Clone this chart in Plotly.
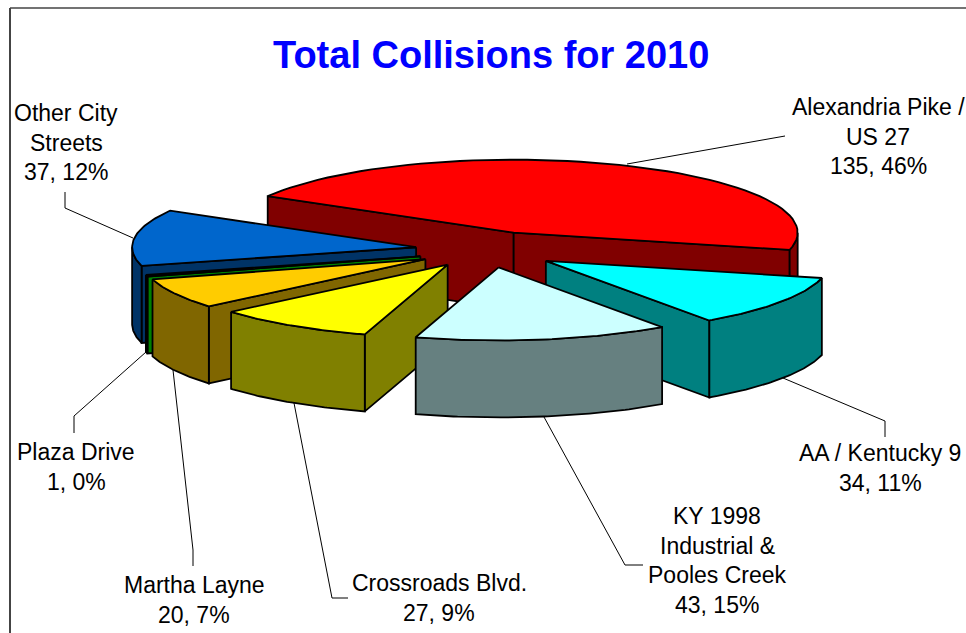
import math
import plotly.graph_objects as go

# ---- data ----
categories = ["Alexandria Pike / US 27", "AA / Kentucky 9", "KY 1998 Industrial & Pooles Creek",
              "Crossroads Blvd.", "Martha Layne", "Plaza Drive", "Other City Streets"]
values = [135, 34, 43, 27, 20, 1, 37]
percent_labels = ["46%", "11%", "15%", "9%", "7%", "0%", "12%"]
label_lines = [["Alexandria Pike /", "US 27"], ["AA / Kentucky 9"], ["KY 1998", "Industrial &", "Pooles Creek"],
               ["Crossroads Blvd."], ["Martha Layne"], ["Plaza Drive"], ["Other City", "Streets"]]

# ---- styling and layout ----
top_colors = ["#FF0000", "#00FFFF", "#CCFFFF", "#FFFF00", "#FFCC00", "#00A000", "#0066CC"]
side_colors = ["#800000", "#008080", "#668080", "#808000", "#806600", "#008000", "#003366"]
pull_x = [0.30, 0.272, 0.37, 0.22, 0.226, 0.225, 0.234]
pull_y = [0.30, 0.19, 0.20, 0.19, 0.18, 0.17, 0.60]
paint_order = [0, 6, 5, 4, 3, 1, 2]
START_ANGLE = 150.0
CX, CY, RX, RY, DEPTH = 482.0, 253.0, 284.0, 73.0, 77.0
OUTLINE = 1.8

label_pos = [(878, 107), (880, 453), (717, 516), (439, 583), (194, 585), (76, 452), (66, 113)]
LINE_GAP = 29.5
leaders = [
    [(627, 164), (785, 136)],
    [(783, 378), (885, 421), (885, 437)],
    [(544, 417), (625, 565), (643, 565)],
    [(294, 403), (332, 598), (348, 598)],
    [(173, 370), (193, 550), (193, 566)],
    [(146, 352), (74, 416), (74, 433)],
    [(133, 238), (65, 208), (65, 192)],
]

fig = go.Figure()


def poly(xs, ys, fill):
    fig.add_trace(go.Scatter(x=xs, y=ys, mode="lines", fill="toself", fillcolor=fill,
                             line=dict(color="black", width=OUTLINE), hoverinfo="skip", showlegend=False))


def rim(ax, ay, a1, a2, n=60):
    pts = [a1 + (a2 - a1) * i / n for i in range(n + 1)]
    return ([ax + RX * math.cos(math.radians(p)) for p in pts],
            [ay - RY * math.sin(math.radians(p)) for p in pts])


total = sum(values)
spans = []
angle = START_ANGLE
for v in values:
    next_angle = angle - v / total * 360.0
    spans.append((angle, next_angle))
    angle = next_angle

for i in paint_order:
    a_hi, a_lo = spans[i]
    mid = math.radians((a_hi + a_lo) / 2)
    ax = CX + pull_x[i] * RX * math.cos(mid)
    ay = CY - pull_y[i] * RY * math.sin(mid)
    c = side_colors[i]
    # radial walls that face the viewer
    for a, facing in ((a_hi, math.cos(math.radians(a_hi)) < 0), (a_lo, math.cos(math.radians(a_lo)) > 0)):
        if facing:
            ex = ax + RX * math.cos(math.radians(a))
            ey = ay - RY * math.sin(math.radians(a))
            poly([ax, ex, ex, ax, ax], [ay, ey, ey + DEPTH, ay + DEPTH, ay], c)
    # curved outer side: only the front half of the ellipse
    sections = []
    for k in range(-1, 2):
        s0, s1 = -180 + 360 * k, 0 + 360 * k
        a0, a1 = max(a_lo, s0), min(a_hi, s1)
        if a1 > a0:
            sections.append((a0, a1))
    for a0, a1 in sections:
        xs, ys = rim(ax, ay, a0, a1)
        poly(xs + xs[::-1] + [xs[0]], ys + [y + DEPTH for y in ys[::-1]] + [ys[0]], c)
    # top face
    xs, ys = rim(ax, ay, a_lo, a_hi)
    poly([ax] + xs + [ax], [ay] + ys + [ay], top_colors[i])

for pts in leaders:
    fig.add_trace(go.Scatter(x=[p[0] for p in pts], y=[p[1] for p in pts], mode="lines",
                             line=dict(color="black", width=1), hoverinfo="skip", showlegend=False))

annotations = [dict(x=491, y=55, text="<b>Total Collisions for 2010</b>", showarrow=False,
                    xref="x", yref="y", font=dict(family="Liberation Sans", size=38, color="#0000FF"))]
for i, lines in enumerate(label_lines):
    x0, y0 = label_pos[i]
    all_lines = lines + [f"{values[i]}, {percent_labels[i]}"]
    for j, t in enumerate(all_lines):
        annotations.append(dict(x=x0, y=y0 + j * LINE_GAP, text=t, showarrow=False, xref="x", yref="y",
                                font=dict(family="Liberation Sans", size=23, color="black")))

fig.update_layout(
    width=966, height=633, autosize=False,
    margin=dict(l=0, r=0, t=0, b=0, pad=0),
    paper_bgcolor="white", plot_bgcolor="white", showlegend=False,
    xaxis=dict(range=[0, 966], visible=False, fixedrange=True),
    yaxis=dict(range=[633, 0], visible=False, fixedrange=True),
    annotations=annotations,
    shapes=[
        dict(type="line", xref="x", yref="y", x0=10, x1=10, y0=8, y1=633, line=dict(color="#444444", width=2)),
        dict(type="line", xref="x", yref="y", x0=10, x1=966, y0=8, y1=8, line=dict(color="#444444", width=1.5)),
    ],
)

fig.write_html("out.html", config={"displayModeBar": False},
               post_script="document.body.style.margin='0';document.body.style.overflow='hidden';")
